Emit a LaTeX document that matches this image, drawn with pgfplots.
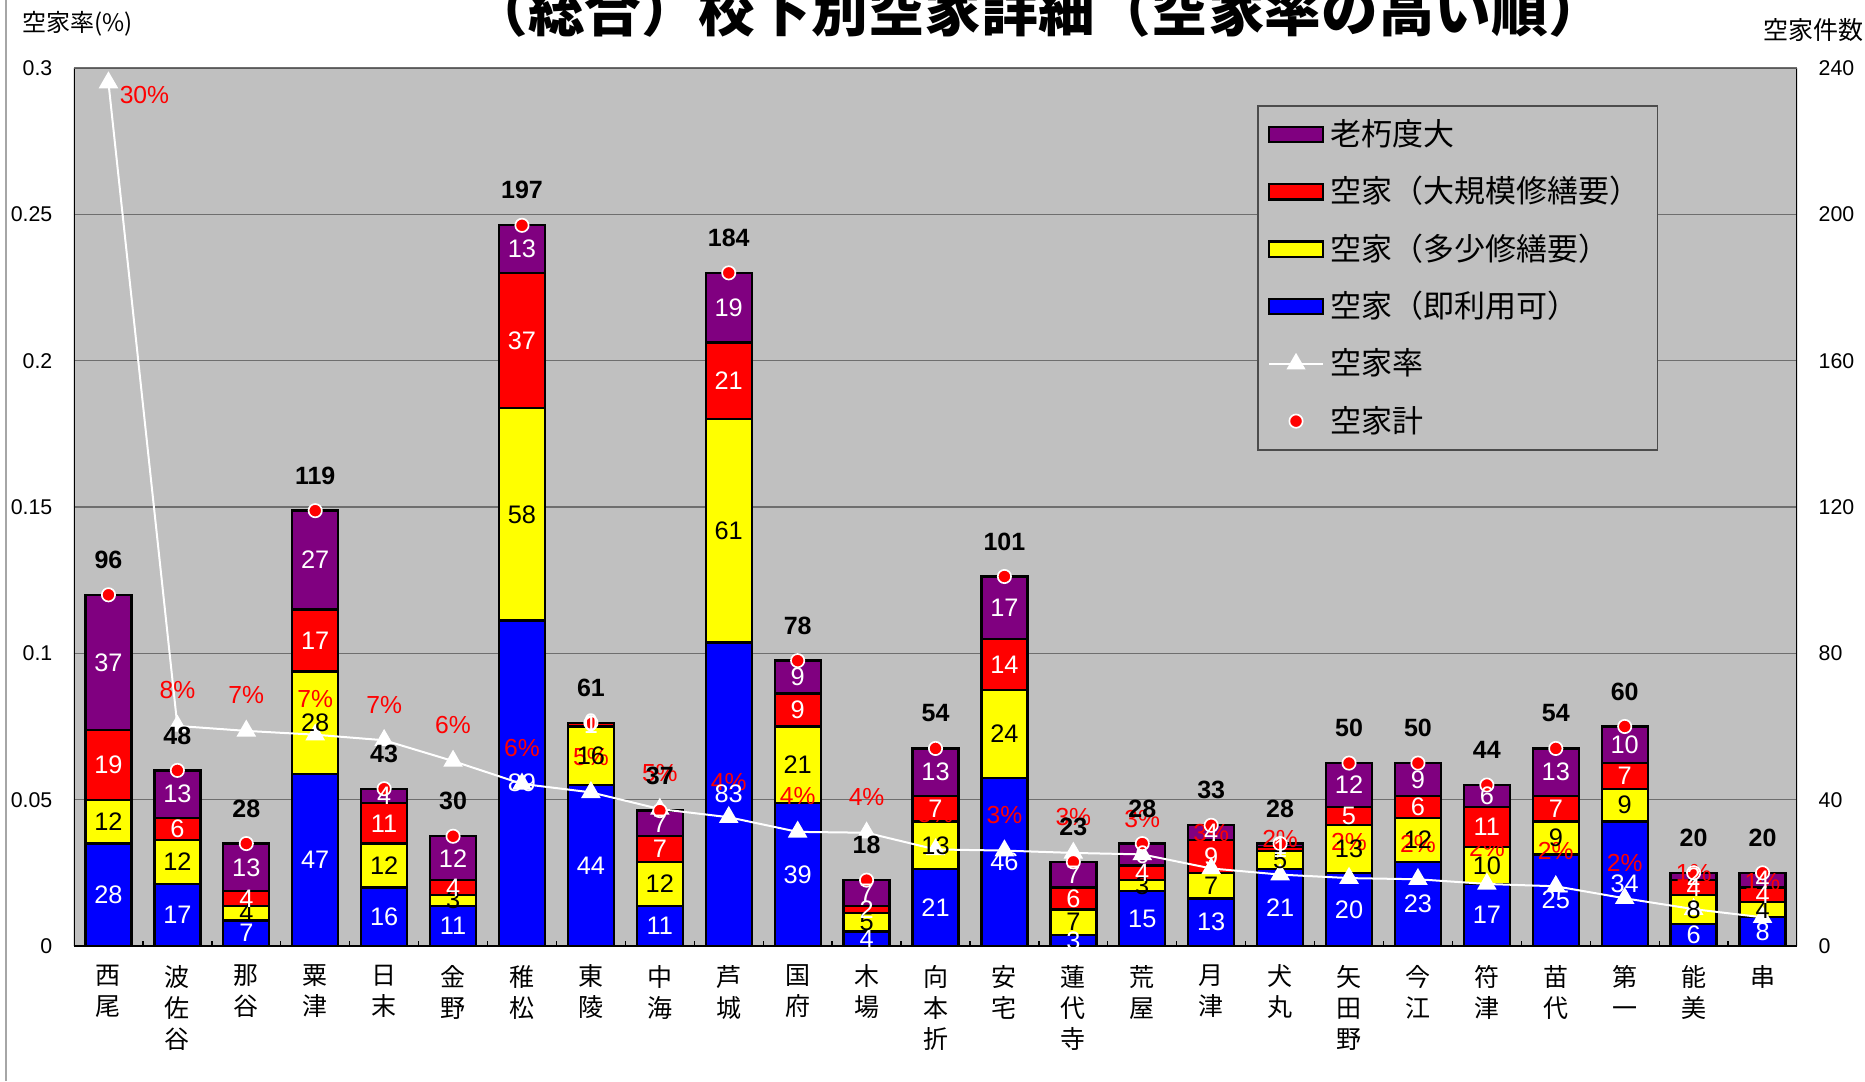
\documentclass[border=0pt]{standalone}
\usepackage{fontspec}
\setmainfont{Liberation Sans}
\newfontfamily\cjk{Noto Sans CJK JP}
\usepackage{pgfplots}
\usepackage{pgfplotstable}
\pgfplotsset{compat=1.18}
\pgfkeys{/pgf/number format/assume math mode=true}

\definecolor{bggray}{HTML}{C0C0C0}
\definecolor{gridgray}{HTML}{6E6E6E}
\definecolor{cpurple}{HTML}{800080}
\definecolor{cred}{HTML}{FF0000}
\definecolor{cyellow}{HTML}{FFFF00}
\definecolor{cblue}{HTML}{0000FF}

% vacant houses per school district: usable / minor repair / major repair / decayed, total, vacancy rate
\pgfplotstableread{
x blue yellow red purple total rate
0 28 12 19 37 96 0.295
1 17 12 6 13 48 0.0752
2 7 4 4 13 28 0.0735
3 47 28 17 27 119 0.0722
4 16 12 11 4 43 0.0703
5 11 3 4 12 30 0.0632
6 89 58 37 13 197 0.0554
7 44 16 1 0 61 0.0525
8 11 12 7 7 37 0.0468
9 83 61 21 19 184 0.0440
10 39 21 9 9 78 0.0390
11 4 5 2 7 18 0.0387
12 21 13 7 13 54 0.0330
13 46 24 14 17 101 0.0326
14 3 7 6 7 23 0.0318
15 15 3 4 6 28 0.0313
16 13 7 9 4 33 0.0265
17 21 5 1 1 28 0.0244
18 20 13 5 12 50 0.0232
19 23 12 6 9 50 0.0228
20 17 10 11 6 44 0.0212
21 25 9 7 13 54 0.0204
22 34 9 7 10 60 0.0163
23 6 8 4 2 20 0.0126
24 8 4 4 4 20 0.0098
}\housing

\pgfplotsset{
  plotarea/.style={at={(22.2pt,40.5pt)}, anchor=south west, scale only axis,
    width=516.9pt, height=263.4pt, xmin=-0.5, xmax=24.5},
  seglabel/.style={draw=none, mark=none, forget plot, nodes near coords, point meta=explicit,
    every node near coord/.append style={anchor=center, text=#1, inner sep=0pt,
      font=\fontsize{7.6}{8}\selectfont}},
  pct/.style={every node near coord/.append style={anchor=center, text=cred, inner sep=0pt,
      font=\fontsize{7.4}{8}\selectfont}},
}

\begin{document}
\begin{tikzpicture}
\useasboundingbox (0,0) rectangle (559.5pt,324.3pt);
\draw[gray!70, line width=0.4pt] (1.8pt,0) -- (1.8pt,324.3pt);

\node[font=\cjk\bfseries\fontsize{17}{20}\selectfont] at (311.4pt,321.2pt) {（総合）校下別空家詳細（空家率の高い順）};
\node[anchor=west, inner sep=0pt, font=\cjk\fontsize{7.2}{8}\selectfont] at (6.6pt,317.1pt) {空家率(\%)};
\node[anchor=west, inner sep=0pt, font=\cjk\fontsize{7.5}{8}\selectfont] at (528.9pt,315.3pt) {空家件数};

% stacked counts (right axis)
\begin{axis}[plotarea, ymin=0, ymax=240,
  ybar stacked, bar width=13.8pt,
  axis background/.style={fill=bggray},
  axis line style={draw=none},
  ymajorgrids, major grid style={gridgray, line width=0.4pt},
  ytick={0,40,...,240}, yticklabel pos=right,
  yticklabel style={font=\fontsize{6.4}{7}\selectfont, inner sep=0pt, xshift=6.3pt},
  xtick={0,...,24}, xtick pos=left, minor x tick num=1,
  major tick length=0pt, minor tick length=1.6pt, tick align=inside,
  minor x tick style={black, line width=0.4pt},
  xticklabels={{西\\尾},{波\\佐\\谷},{那\\谷},{粟\\津},{日\\末},{金\\野},{稚\\松},{東\\陵},{中\\海},{芦\\城},{国\\府},{木\\場},{向\\本\\折},{安\\宅},{蓮\\代\\寺},{荒\\屋},{月\\津},{犬\\丸},{矢\\田\\野},{今\\江},{符\\津},{苗\\代},{第\\一},{能\\美},{串}},
  xticklabel style={font=\cjk\fontsize{7.5}{9.3}\selectfont, align=center, anchor=north, inner sep=0pt, yshift=-5.5pt},
]
\addplot[fill=cblue, draw=black, line width=0.7pt] table[x=x, y=blue]{\housing};
\addplot[fill=cyellow, draw=black, line width=0.7pt] table[x=x, y=yellow]{\housing};
\addplot[fill=cred, draw=black, line width=0.7pt] table[x=x, y=red]{\housing};
\addplot[fill=cpurple, draw=black, line width=0.7pt] table[x=x, y=purple]{\housing};
\end{axis}

% vacancy rate (left axis)
\begin{axis}[plotarea, ymin=0, ymax=0.3,
  axis line style={draw=none}, xtick=\empty,
  ytick={0,0.05,0.1,0.15,0.2,0.25,0.3},
  yticklabels={0,0.05,0.1,0.15,0.2,0.25,0.3},
  ytick pos=left, major tick length=0pt,
  yticklabel style={font=\fontsize{6.4}{7}\selectfont, inner sep=0pt, xshift=-6.3pt},
]
\addplot[white, line width=0.6pt, mark=triangle*, mark size=2.8pt, mark options={fill=white, draw=white}]
  table[x=x, y=rate]{\housing};
\addplot[draw=none, mark=none, pct, restrict x to domain=0.5:24.5,
  nodes near coords={\pgfmathprintnumber[fixed,precision=0]{\pgfplotspointmeta}\%},
  point meta={\thisrow{rate}*100},
  every node near coord/.append style={yshift=10.7pt}]
  table[x=x, y=rate]{\housing};
\addplot[draw=none, mark=none, pct, restrict x to domain=-0.5:0.5,
  nodes near coords={\pgfmathprintnumber[fixed,precision=0]{\pgfplotspointmeta}\%},
  point meta={\thisrow{rate}*100},
  every node near coord/.append style={xshift=10.8pt, yshift=-3.7pt}]
  table[x=x, y=rate]{\housing};
\end{axis}

% totals, segment values and legend
\begin{axis}[plotarea, ymin=0, ymax=240, hide axis,
  legend style={at={(0.6866,0.9579)}, anchor=north west, fill=bggray, draw=gray!60!black,
    line width=0.5pt, font=\cjk\fontsize{9.3}{10}\selectfont, inner xsep=3pt, inner ysep=0pt,
    row sep=0pt, nodes={inner ysep=4pt, inner xsep=2pt, text height=7.9pt, text depth=1.3pt}},
  legend cell align=left,
]
\addplot[only marks, mark=*, mark size=2pt, mark options={fill=cred, draw=white, line width=0.5pt},
  forget plot, nodes near coords, point meta=explicit,
  every node near coord/.append style={anchor=center, text=black, inner sep=0pt, yshift=10.5pt,
    font=\bfseries\fontsize{7.5}{8}\selectfont}]
  table[x=x, y=total, meta=total]{\housing};
\addplot[seglabel=white] table[x=x, y expr=\thisrow{blue}/2, meta=blue]{\housing};
\addplot[seglabel=black] table[x=x, y expr=\thisrow{blue}+\thisrow{yellow}/2, meta=yellow]{\housing};
\addplot[seglabel=white] table[x=x, y expr=\thisrow{blue}+\thisrow{yellow}+\thisrow{red}/2, meta=red]{\housing};
\addplot[seglabel=white] table[x=x, y expr=\thisrow{blue}+\thisrow{yellow}+\thisrow{red}+\thisrow{purple}/2, meta=purple]{\housing};

\addlegendimage{legend image code/.code={\draw[fill=cpurple, draw=black, line width=0.7pt] (0pt,-2.3pt) rectangle (16.2pt,2.3pt);}}
\addlegendentry{老朽度大}
\addlegendimage{legend image code/.code={\draw[fill=cred, draw=black, line width=0.7pt] (0pt,-2.3pt) rectangle (16.2pt,2.3pt);}}
\addlegendentry{空家（大規模修繕要）}
\addlegendimage{legend image code/.code={\draw[fill=cyellow, draw=black, line width=0.7pt] (0pt,-2.3pt) rectangle (16.2pt,2.3pt);}}
\addlegendentry{空家（多少修繕要）}
\addlegendimage{legend image code/.code={\draw[fill=cblue, draw=black, line width=0.7pt] (0pt,-2.3pt) rectangle (16.2pt,2.3pt);}}
\addlegendentry{空家（即利用可）}
\addlegendimage{legend image code/.code={\draw[white, line width=0.6pt] (0pt,0pt) -- (16.2pt,0pt);
  \path plot[mark=triangle*, mark size=2.8pt, mark options={fill=white, draw=white}] coordinates {(8.1pt,0pt)};}}
\addlegendentry{空家率}
\addlegendimage{legend image code/.code={\path plot[mark=*, mark size=2pt, mark options={fill=cred, draw=white, line width=0.5pt}] coordinates {(8.1pt,0pt)};}}
\addlegendentry{空家計}

% plot area frame
\draw[black, line width=0.5pt] (rel axis cs:0,1) -- (rel axis cs:0,0);
\draw[black, line width=0.6pt] (rel axis cs:0,0) -- (rel axis cs:1,0);
\draw[black, line width=0.5pt] (rel axis cs:1,0) -- (rel axis cs:1,1);
\draw[gray!70!black, line width=0.8pt] (rel axis cs:0,1) -- (rel axis cs:1,1);
\end{axis}
\end{tikzpicture}
\end{document}
